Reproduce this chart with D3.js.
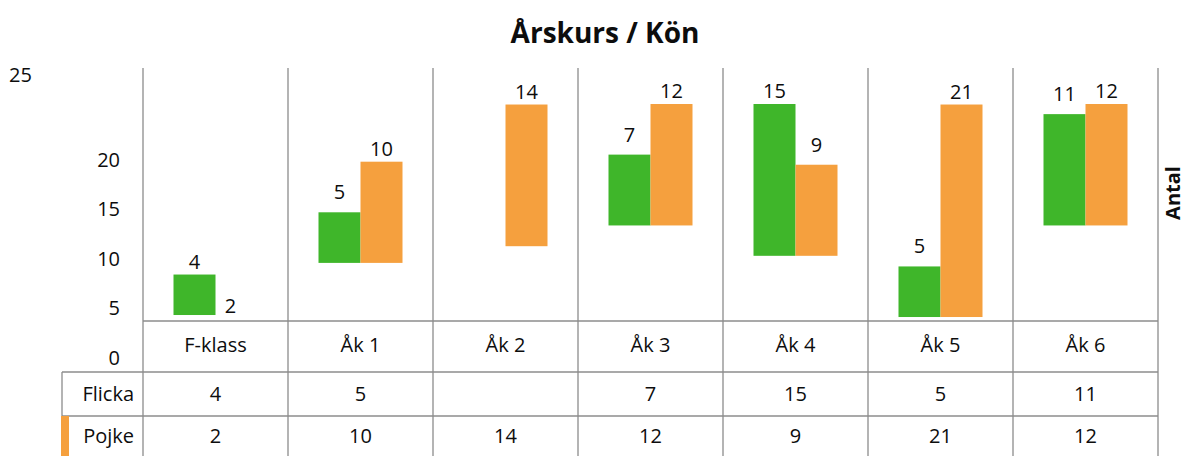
<html>
<head>
    <meta charset="utf-8">
    <script src="https://d3js.org/d3.v7.min.js"></script>
    <style type="text/css">
    body { margin: 0; background: #fff; }
    text { font-family: "Open Sans", sans-serif; fill: #0d0d0d; }
    </style>
</head>
<body>
<script type="text/javascript">
"use strict";

var categories = ["F-klass", "Åk 1", "Åk 2", "Åk 3", "Åk 4", "Åk 5", "Åk 6"];
var flicka = [4, 5, null, 7, 15, 5, 11];
var pojke = [2, 10, 14, 12, 9, 21, 12];
// the bars float in the original picture: where each one starts, in axis units
var flickaBase = [4.05, 9.2, null, 12.9, 9.9, 3.85, 12.9];
var pojkeBase = [1.0, 9.2, 10.85, 12.9, 9.9, 3.85, 12.9];
var yTicks = [0, 5, 10, 15, 20, 25];
var seriesNames = ["Flicka", "Pojke"];

var width = 1187, height = 456;
var green = "#3fb62a", orange = "#f5a03e", grid = "#8c8c8c";

var svg = d3.select("body").append("svg")
    .attr("width", width)
    .attr("height", height);

/*
scales
*/
var x = d3.scaleBand().domain(categories).range([143, 1158]);
var x1 = d3.scaleBand().domain(seriesNames)
    .range([(x.bandwidth() - 84) / 2, (x.bandwidth() + 84) / 2]);
var y = d3.scaleLinear().domain([0, 25]).range([356, 103]);
// tick labels are spaced a little tighter than the bars
var yAxisScale = d3.scaleLinear().domain([0, 20]).range([358, 160]);

var rowCat = 345, rowFlicka = 394, rowPojke = 436;

// title
svg.append("text")
    .attr("x", 605).attr("y", 43)
    .attr("text-anchor", "middle")
    .style("font-size", "28px")
    .style("font-weight", "bold")
    .text("Årskurs / Kön");

svg.append("text")
    .attr("transform", "translate(1180,193) rotate(-90)")
    .attr("text-anchor", "middle")
    .style("font-size", "20px")
    .style("font-weight", "bold")
    .text("Antal");

/*
bars
*/
svg.append("clipPath").attr("id", "plotclip")
  .append("rect")
    .attr("x", 143).attr("y", y(25) - 40)
    .attr("width", 1015).attr("height", y(3.8) - y(25) + 40);

var bars = [];
categories.forEach(function(c, i) {
    var mx = Math.max(flicka[i] || 0, pojke[i] || 0);
    if (flicka[i] != null) bars.push({cat: c, s: "Flicka", v: flicka[i], b: flickaBase[i], max: flicka[i] === mx});
    if (pojke[i] != null) bars.push({cat: c, s: "Pojke", v: pojke[i], b: pojkeBase[i], max: pojke[i] === mx});
});

var plot = svg.append("g").attr("clip-path", "url(#plotclip)");
plot.selectAll("rect.bar").data(bars).enter().append("rect")
    .attr("class", "bar")
    .attr("x", function(d) { return x(d.cat) + x1(d.s); })
    .attr("width", x1.bandwidth())
    .attr("y", function(d) { return y(d.b + d.v); })
    .attr("height", function(d) { return y(d.b) - y(d.b + d.v); })
    .attr("fill", function(d) { return d.s === "Flicka" ? green : orange; });

svg.selectAll("text.val").data(bars).enter().append("text")
    .attr("class", "val")
    .attr("x", function(d) { return x(d.cat) + x1(d.s) + x1.bandwidth() / 2 - (d.b < 3 ? 6 : 0); })
    .attr("y", function(d) { return y(d.b + d.v) - (d.max ? 13 : 20); })
    .attr("dy", "0.35em")
    .attr("text-anchor", "middle")
    .style("font-size", "20px")
    .text(function(d) { return d.v; });

/*
y axis labels
*/
var yAxis = svg.append("g")
    .attr("transform", "translate(120,0)")
    .call(d3.axisLeft(yAxisScale).tickValues(yTicks.filter(function(t) { return t <= 20; })).tickSize(0).tickPadding(0));
yAxis.select(".domain").remove();
yAxis.selectAll("text").style("font-size", "20px").style("font-family", "'Open Sans', sans-serif").attr("fill", "#0d0d0d");

// the top label sits apart in the corner
svg.append("text")
    .attr("x", 9).attr("y", 75).attr("dy", "0.35em")
    .style("font-size", "20px")
    .text(yTicks[yTicks.length - 1]);

/*
grid and data table
*/
var edges = categories.map(function(c) { return x(c); }).concat([x.range()[1]]);
svg.selectAll("line.v").data(edges).enter().append("line")
    .attr("x1", function(d) { return d; }).attr("x2", function(d) { return d; })
    .attr("y1", 68).attr("y2", height)
    .attr("stroke", grid).attr("stroke-width", 1.3);

svg.append("line").attr("x1", 143).attr("x2", 1158).attr("y1", 321).attr("y2", 321)
    .attr("stroke", grid).attr("stroke-width", 1.3);
[372, 416].forEach(function(yy) {
    svg.append("line").attr("x1", 62).attr("x2", 1158).attr("y1", yy).attr("y2", yy)
        .attr("stroke", grid).attr("stroke-width", 1.3);
});
svg.append("line").attr("x1", 62).attr("x2", 62).attr("y1", 372).attr("y2", 416)
    .attr("stroke", grid).attr("stroke-width", 1.3);

// legend key for Pojke
svg.append("rect").attr("x", 61).attr("y", 416).attr("width", 8).attr("height", 42).attr("fill", orange);

svg.selectAll("text.cat").data(categories).enter().append("text")
    .attr("x", function(d) { return x(d) + x.bandwidth() / 2; })
    .attr("y", rowCat).attr("dy", "0.35em")
    .attr("text-anchor", "middle")
    .style("font-size", "20px")
    .text(function(d) { return d; });

[[seriesNames[0], flicka, rowFlicka], [seriesNames[1], pojke, rowPojke]].forEach(function(r) {
    svg.append("text")
        .attr("x", 134).attr("y", r[2]).attr("dy", "0.35em")
        .attr("text-anchor", "end")
        .style("font-size", "20px")
        .text(r[0]);
    svg.selectAll(null).data(r[1]).enter().append("text")
        .attr("x", function(d, i) { return x(categories[i]) + x.bandwidth() / 2; })
        .attr("y", r[2]).attr("dy", "0.35em")
        .attr("text-anchor", "middle")
        .style("font-size", "20px")
        .text(function(d) { return d == null ? "" : d; });
});
</script>
</body>
</html>
